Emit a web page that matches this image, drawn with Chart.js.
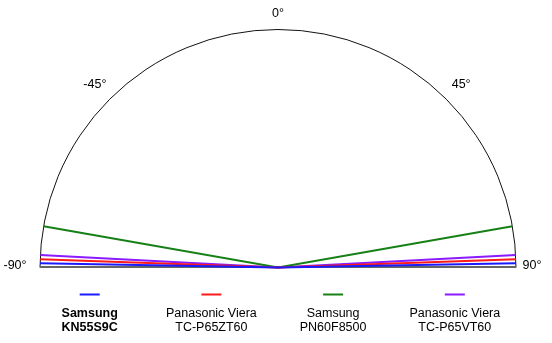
<!DOCTYPE html>
<html>
<head>
<meta charset="utf-8">
<script src="https://cdn.jsdelivr.net/npm/chart.js@4/dist/chart.umd.min.js"></script>
<style>
  body { margin: 0; background: #fff; }
  canvas { display: block; }
</style>
</head>
<body>
<canvas id="myChart" width="552" height="343"></canvas>
<script>
// viewing angle (degrees from straight on) for each set
const sets = ["Samsung KN55S9C", "Panasonic Viera TC-P65ZT60", "Samsung PN60F8500", "Panasonic Viera TC-P65VT60"];
const labelLines = [["Samsung", "KN55S9C"], ["Panasonic Viera", "TC-P65ZT60"], ["Samsung", "PN60F8500"], ["Panasonic Viera", "TC-P65VT60"]];
const viewAngles = [89, 88, 80, 87];
const colors = ["#1a1aff", "#ff1a1a", "#168016", "#8a1aff"];
const angleTicks = [-90, -45, 0, 45, 90];

function toXY(deg) {
  const a = deg * Math.PI / 180;
  return { x: Math.sin(a), y: Math.cos(a) };
}

const datasets = sets.map((name, i) => ({
  label: name,
  data: [toXY(-viewAngles[i]), { x: 0, y: 0 }, toXY(viewAngles[i])],
  showLine: true,
  borderColor: colors[i],
  borderWidth: 2,
  pointRadius: 0,
  clip: false,
}));

// semicircle frame, baseline and angle labels
const halfDial = {
  id: "halfDial",
  beforeDatasetsDraw(chart) {
    const { ctx, scales } = chart;
    const cx = scales.x.getPixelForValue(0);
    const cy = scales.y.getPixelForValue(0);
    const r = scales.x.getPixelForValue(1) - cx;
    ctx.save();
    ctx.strokeStyle = "#111";
    ctx.lineWidth = 1;
    ctx.beginPath();
    ctx.arc(cx, cy, r, Math.PI, 2 * Math.PI);
    ctx.stroke();
    ctx.strokeStyle = "#666";
    ctx.lineWidth = 2;
    ctx.beginPath();
    ctx.moveTo(cx - r, cy - 0.5);
    ctx.lineTo(cx + r, cy - 0.5);
    ctx.stroke();

    ctx.fillStyle = "#000";
    ctx.font = "12.5px 'Liberation Sans', Arial, sans-serif";
    ctx.textAlign = "center";
    ctx.textBaseline = "middle";
    angleTicks.forEach(t => {
      const p = toXY(t);
      let off = 16;
      if (Math.abs(t) === 45) off = 21;
      if (t === -90) off = 25;
      const lx = cx + p.x * (r + off);
      const ly = cy - p.y * (r + off) - (Math.abs(t) === 90 ? 2 : 0);
      ctx.fillText(t + "°", lx, ly);
    });
    ctx.restore();
  },
  afterDraw(chart) {
    const { ctx } = chart;
    ctx.save();
    ctx.textAlign = "center";
    ctx.textBaseline = "middle";
    labelLines.forEach((lines, i) => {
      const x = 89.7 + i * 121.7;
      ctx.strokeStyle = colors[i];
      ctx.lineWidth = 2;
      ctx.beginPath();
      ctx.moveTo(x - 10, 294.5);
      ctx.lineTo(x + 10, 294.5);
      ctx.stroke();
      ctx.fillStyle = "#000";
      ctx.font = (i === 0 ? "bold " : "") + "12.5px 'Liberation Sans', Arial, sans-serif";
      lines.forEach((s, j) => ctx.fillText(s, x, 313.5 + j * 14));
    });
    ctx.restore();
  }
};

const myChart = new Chart(document.getElementById("myChart").getContext("2d"), {
  type: "scatter",
  data: { datasets },
  options: {
    responsive: false,
    animation: false,
    layout: { padding: { left: 40, right: 36, top: 29.5, bottom: 75.5 } },
    scales: {
      x: { type: "linear", min: -1, max: 1, display: false },
      y: { type: "linear", min: 0, max: 1, display: false },
    },
    plugins: {
      legend: { display: false },
      tooltip: { enabled: false },
    },
  },
  plugins: [halfDial],
});
</script>
</body>
</html>
